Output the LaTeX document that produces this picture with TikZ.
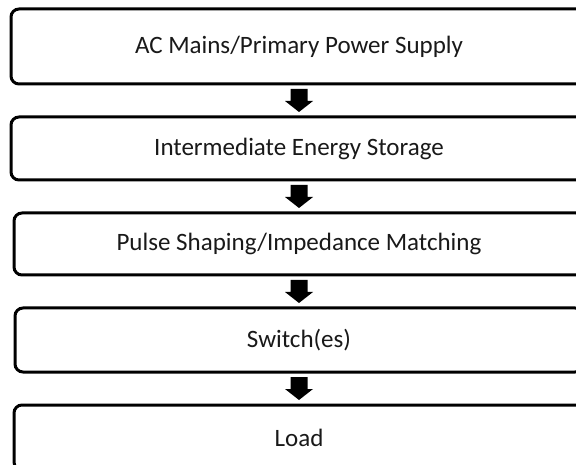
\documentclass[tikz,border=0pt]{standalone}
\usepackage{fontspec}
\setmainfont{Carlito}
\usetikzlibrary{calc}
\tikzset{
  stagebox/.style={draw=black, line width=3pt, rounded corners=8pt, fill=white,
    inner sep=0pt, align=center, text=black!90,
    font=\fontsize{25}{30}\selectfont},
  arrowfill/.style={fill=black},
}
\begin{document}
\begin{tikzpicture}[x=1pt,y=-1pt]
  \useasboundingbox (0,0) rectangle (576,465);
  \clip (0,0) rectangle (576,465);
  \node[stagebox, minimum width=576pt, minimum height=75pt] (b1) at (299,46.5) {AC Mains/Primary Power Supply};
  \node[stagebox, minimum width=576pt, minimum height=63pt] (b2) at (299,148.5) {Intermediate Energy Storage};
  \node[stagebox, minimum width=570pt, minimum height=62pt] (b3) at (299,244) {Pulse Shaping/Impedance Matching};
  \node[stagebox, minimum width=568pt, minimum height=64pt] (b4) at (299,340) {Switch(es)};
  \node[stagebox, minimum width=570pt, minimum height=65pt] (b5) at (299,437.5) {Load};
  \foreach \a/\b in {b1/b2, b2/b3, b3/b4, b4/b5} {
    \coordinate (m-\a) at ($(\a.south)!0.5!(\b.north)$);
    \begin{scope}[shift={(m-\a)}]
      \fill[arrowfill] (-8.5,-11.5) -- (8.5,-11.5) -- (8.5,0.5) -- (14,0.5) -- (0,11.5) -- (-14,0.5) -- (-8.5,0.5) -- cycle;
    \end{scope}
  }
\end{tikzpicture}
\end{document}
